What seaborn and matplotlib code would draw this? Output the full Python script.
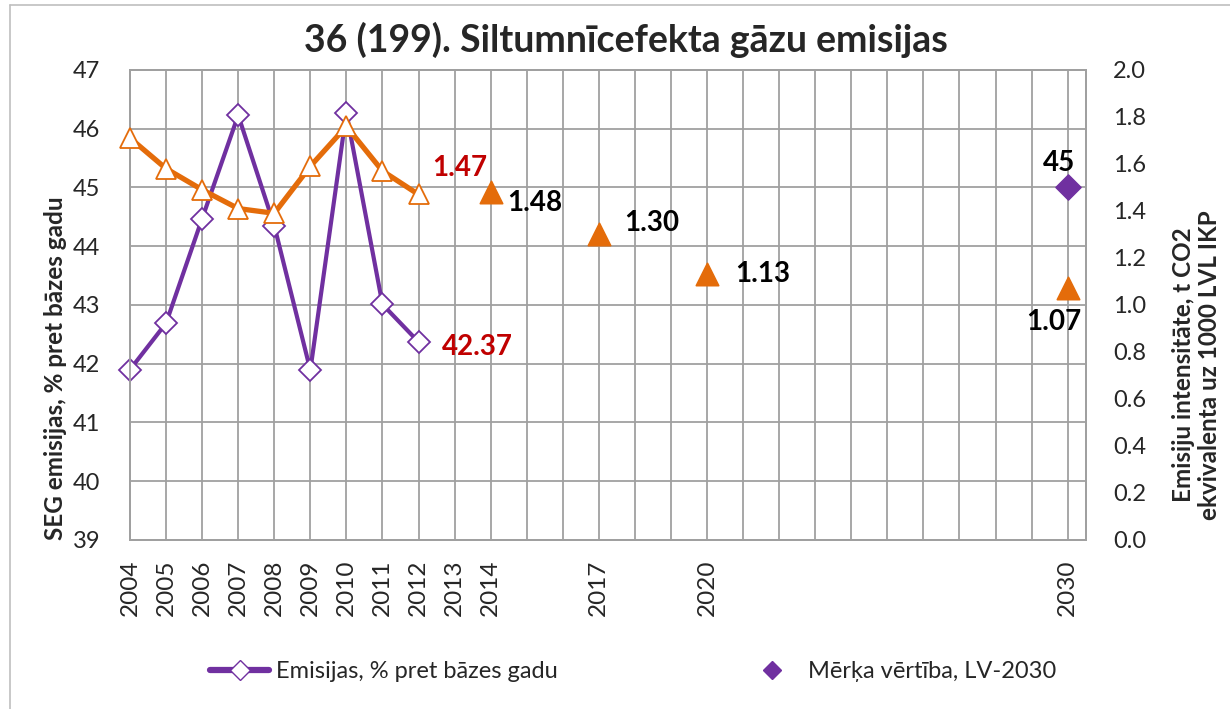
import matplotlib
matplotlib.use("Agg")
import matplotlib.pyplot as plt
import matplotlib.lines as mlines
import seaborn as sns
import pandas as pd

# dati
years_hist = [2004, 2005, 2006, 2007, 2008, 2009, 2010, 2011, 2012]
emis_pct = [41.90, 42.69, 44.47, 46.23, 44.35, 41.89, 46.27, 43.01, 42.37]
intensity_hist = [1.71, 1.58, 1.49, 1.41, 1.39, 1.59, 1.76, 1.57, 1.47]
years_proj = [2014, 2017, 2020, 2030]
intensity_proj = [1.48, 1.30, 1.13, 1.07]
target_year = [2030]
target_val = [45]
tick_years = [2004, 2005, 2006, 2007, 2008, 2009, 2010, 2011, 2012, 2013, 2014, 2017, 2020, 2030]

df_hist = pd.DataFrame({"year": years_hist, "emis": emis_pct, "intens": intensity_hist})
df_proj = pd.DataFrame({"year": years_proj, "intens": intensity_proj})
df_target = pd.DataFrame({"year": target_year, "val": target_val})

sns.set_style("white")
plt.rcParams["font.family"] = ["Lato", "DejaVu Sans"]

purple = "#7030A0"
orange = "#E46C0A"
red = "#C00000"
grid_c = "#A0A0A0"

fig = plt.figure(figsize=(12.3, 7.09), dpi=100)
ax = fig.add_axes([0.1057, 0.2384, 0.777, 0.663])
ax2 = ax.twinx()

# --- kreisā ass: emisijas ---
sns.lineplot(data=df_hist, x="year", y="emis", ax=ax, color=purple, linewidth=3.0,
             marker="D", markersize=11, markerfacecolor="white",
             markeredgecolor=purple, markeredgewidth=1.3, zorder=3, clip_on=False)
sns.scatterplot(data=df_target, x="year", y="val", ax=ax, color=purple, marker="D",
                s=165, edgecolor=purple, zorder=4, clip_on=False)

# --- labā ass: intensitāte ---
sns.lineplot(data=df_hist, x="year", y="intens", ax=ax2, color=orange, linewidth=3.8,
             marker="^", markersize=15, markerfacecolor="white",
             markeredgecolor=orange, markeredgewidth=1.3, zorder=3, clip_on=False)
sns.scatterplot(data=df_proj, x="year", y="intens", ax=ax2, color=orange, marker="^",
                s=256, edgecolor=orange, zorder=4, clip_on=False)

ax.set_xlim(2004, 2030.5)
ax.set_ylim(39, 47)
ax2.set_ylim(0, 2.0)
ax.set_yticks(range(39, 48))
ax2.set_yticks([i / 10 for i in range(0, 21, 2)])
ax2.set_yticklabels([f"{i / 10:.1f}" for i in range(0, 21, 2)])

ax.set_xticks(range(2004, 2031))
ax.set_xticklabels([str(y) if y in tick_years else "" for y in range(2004, 2031)],
                   rotation=90, fontsize=17.5)

ax.grid(True, color=grid_c, linewidth=1.3)
ax2.grid(False)
for a in (ax, ax2):
    for s in a.spines.values():
        s.set_color(grid_c)
        s.set_linewidth(1.3)
ax.tick_params(axis="both", length=0)
ax.tick_params(axis="y", labelsize=17, pad=21.5)
ax.tick_params(axis="x", pad=14)
ax2.tick_params(axis="y", length=0, labelsize=17, pad=19.5)

ax.set_xlabel("")
ax.set_ylabel("SEG emisijas, % pret bāzes gadu", fontsize=17.5, fontweight="bold")
ax.yaxis.set_label_coords(-0.066, 0.366)
ax2.set_ylabel("Emisiju intensitāte, t CO2\nekvivalenta uz 1000 LVL IKP",
               fontsize=17.5, fontweight="bold", linespacing=1.15)
ax2.yaxis.set_label_coords(1.090, 0.372)

# vērtību etiķetes
lbl = dict(fontsize=20, fontweight="bold", va="center", textcoords="offset points")
ax2.annotate(f"{intensity_hist[-1]:.2f}", (years_hist[-1], intensity_hist[-1]),
             xytext=(9.5, 19), color=red, ha="left", **lbl)
ax.annotate(f"{emis_pct[-1]:.2f}", (years_hist[-1], emis_pct[-1]),
            xytext=(16.5, -3.5), color=red, ha="left", **lbl)
proj_offsets = [(12, -8), (18, 8), (20, 0), (-10, -24)]
proj_ha = ["left", "left", "left", "center"]
for yr, v, off, ha in zip(years_proj, intensity_proj, proj_offsets, proj_ha):
    ax2.annotate(f"{v:.2f}", (yr, v), xytext=off, color="black", ha=ha, **lbl)
ax.annotate(f"{target_val[0]}", (target_year[0], target_val[0]), xytext=(-6, 17.5),
            color="black", ha="center", **lbl)

fig.text(0.5085, 1 - 52 / 709, "36 (199). Siltumnīcefekta gāzu emisijas",
         ha="center", va="baseline", fontsize=27, fontweight="bold")

# leģenda
h1 = mlines.Line2D([], [], color=purple, linewidth=4.5, marker="D", markersize=10,
                   markerfacecolor="white", markeredgecolor=purple)
h2 = mlines.Line2D([], [], color=purple, linestyle="none", marker="D", markersize=9)
fig.legend([h1, h2], ["Emisijas, % pret bāzes gadu", "Mērķa vērtība, LV-2030"],
           loc="center", bbox_to_anchor=(0.515, 1 - 672 / 709), ncol=2, frameon=False,
           fontsize=17, handlelength=2.5, handletextpad=0.3, columnspacing=7.8)

# diagrammas apmale
fig.add_artist(mlines.Line2D([10 / 1230, 1], [1 - 5 / 709, 1 - 5 / 709],
                             color="#BFBFBF", linewidth=1.2))
fig.add_artist(mlines.Line2D([10 / 1230, 10 / 1230], [0, 1 - 5 / 709],
                             color="#BFBFBF", linewidth=1.2))

plt.savefig("out.png", dpi=100)
